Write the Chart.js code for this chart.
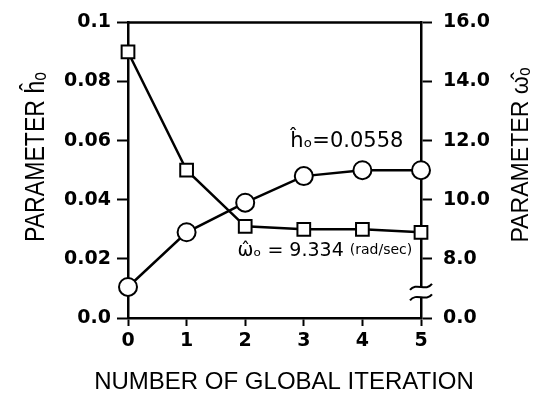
<!DOCTYPE html>
<html>
<head>
<meta charset="utf-8">
<script src="https://cdn.jsdelivr.net/npm/chart.js@4"></script>
<style>
  html, body { margin: 0; padding: 0; background: #fff; }
  #wrap { width: 535px; height: 397px; }
</style>
</head>
<body>
<div id="wrap"><canvas id="myChart" width="535" height="397"></canvas></div>
<script>
// iterations on the x axis
var iterations = [0, 1, 2, 3, 4, 5];
// h-hat (left axis, circles)
var hValues = [0.0105, 0.029, 0.039, 0.048, 0.050, 0.050];
// omega-hat (right axis, squares); right axis is broken below 8.0
var wValues = [15.0, 11.0, 9.1, 9.0, 9.0, 8.9];
var leftTicks = [0, 0.02, 0.04, 0.06, 0.08, 0.1];
var rightTicks = [6, 8, 10, 12, 14, 16]; // 6 is shown as "0.0" (axis break)

var tickFont = { family: "DejaVu Sans", size: 19, weight: "bold" };

function pts(ys) {
    return iterations.map(function (x, i) { return { x: x, y: ys[i] }; });
}

// extra drawing: top border, axis break, titles, annotations
var extras = {
    id: "extras",
    afterDraw: function (chart) {
        var ctx = chart.ctx;
        var a = chart.chartArea;
        var xs = chart.scales.x, yl = chart.scales.y, yr = chart.scales.y1;
        ctx.save();
        ctx.strokeStyle = "#000";
        ctx.fillStyle = "#000";
        ctx.lineWidth = 2.5;
        // top border
        ctx.beginPath();
        ctx.moveTo(a.left, a.top);
        ctx.lineTo(a.right, a.top);
        ctx.stroke();

        // break mark on the right axis
        var bx = a.right;
        var b1 = yr.getPixelForValue(7.05), b2 = yr.getPixelForValue(6.7);
        ctx.fillStyle = "#fff";
        ctx.fillRect(bx - 3, b1, 6, b2 - b1);
        ctx.fillStyle = "#000";
        ctx.lineWidth = 2;
        [b1, b2].forEach(function (by) {
            ctx.beginPath();
            ctx.moveTo(bx - 11, by + 3);
            ctx.bezierCurveTo(bx - 5, by - 5, bx + 5, by + 5, bx + 11, by - 3);
            ctx.stroke();
        });

        // axis titles
        ctx.textAlign = "center";
        ctx.textBaseline = "middle";
        ctx.font = "24px 'Liberation Sans'";
        ctx.fillText("NUMBER OF GLOBAL ITERATION", 284, 382);

        ctx.font = "22px 'Liberation Sans'";
        ctx.save();
        ctx.translate(36, 157);
        ctx.rotate(-Math.PI / 2);
        ctx.scale(1.05, 1.25);
        ctx.fillText("PARAMETER ĥₒ", 0, 0);
        ctx.restore();
        ctx.save();
        ctx.translate(521, 155);
        ctx.rotate(-Math.PI / 2);
        ctx.scale(1.05, 1.1);
        ctx.fillText("PARAMETER ω̂ₒ", 0, 0);
        ctx.restore();

        // value notes
        ctx.textAlign = "left";
        ctx.font = "21px 'DejaVu Sans'";
        ctx.fillText("ĥₒ=0.0558", xs.getPixelForValue(2.77), yl.getPixelForValue(0.0597));
        var wx = xs.getPixelForValue(1.87), wy = yr.getPixelForValue(8.28);
        ctx.font = "19px 'DejaVu Sans'";
        var part = "ω̂ₒ = 9.334 ";
        ctx.fillText(part, wx, wy);
        var pw = ctx.measureText(part).width;
        ctx.font = "14px 'DejaVu Sans'";
        ctx.fillText("(rad/sec)", wx + pw, wy);
        ctx.restore();
    }
};

new Chart(document.getElementById("myChart").getContext("2d"), {
    type: "line",
    data: {
        datasets: [
            {
                label: "h",
                data: pts(hValues),
                yAxisID: "y",
                borderColor: "#000",
                borderWidth: 2.5,
                pointStyle: "circle",
                pointRadius: 9,
                pointBackgroundColor: "#fff",
                pointBorderColor: "#000",
                pointBorderWidth: 2,
                tension: 0,
                clip: false
            },
            {
                label: "w",
                data: pts(wValues),
                yAxisID: "y1",
                borderColor: "#000",
                borderWidth: 2.5,
                pointStyle: "rect",
                pointRadius: 9,
                pointBackgroundColor: "#fff",
                pointBorderColor: "#000",
                pointBorderWidth: 2,
                tension: 0,
                clip: false
            }
        ]
    },
    options: {
        responsive: false,
        animation: false,
        events: [],
        layout: { padding: { top: 20, left: 0, right: 0, bottom: 0 } },
        plugins: { legend: { display: false }, tooltip: { enabled: false } },
        scales: {
            x: {
                type: "linear",
                min: 0, max: 5,
                afterFit: function (s) { s.height = 79; },
                afterBuildTicks: function (s) { s.ticks = iterations.map(function (v) { return { value: v }; }); },
                grid: { drawOnChartArea: false, tickLength: 8, tickWidth: 2, color: "#000" },
                border: { display: true, width: 2.5, color: "#000" },
                ticks: { color: "#000", font: tickFont, padding: 4 }
            },
            y: {
                position: "left",
                min: 0, max: 0.1,
                afterFit: function (s) { s.width = 128; },
                afterBuildTicks: function (s) { s.ticks = leftTicks.map(function (v) { return { value: v }; }); },
                grid: { drawOnChartArea: false, tickLength: 11, tickWidth: 2, color: "#000" },
                border: { display: true, width: 2.5, color: "#000" },
                ticks: {
                    color: "#000", font: tickFont, padding: 6,
                    callback: function (v) {
                        if (v === 0) return "0.0";
                        if (Math.abs(v - 0.1) < 1e-9) return "0.1";
                        return v.toFixed(2);
                    }
                }
            },
            y1: {
                position: "right",
                min: 6, max: 16,
                afterFit: function (s) { s.width = 114; },
                afterBuildTicks: function (s) { s.ticks = rightTicks.map(function (v) { return { value: v }; }); },
                grid: { drawOnChartArea: false, tickLength: 11, tickWidth: 2, color: "#000" },
                border: { display: true, width: 2.5, color: "#000" },
                ticks: {
                    color: "#000", font: tickFont, padding: 11,
                    callback: function (v) { return v === 6 ? "0.0" : v.toFixed(1); }
                }
            }
        }
    },
    plugins: [extras]
});
</script>
</body>
</html>
